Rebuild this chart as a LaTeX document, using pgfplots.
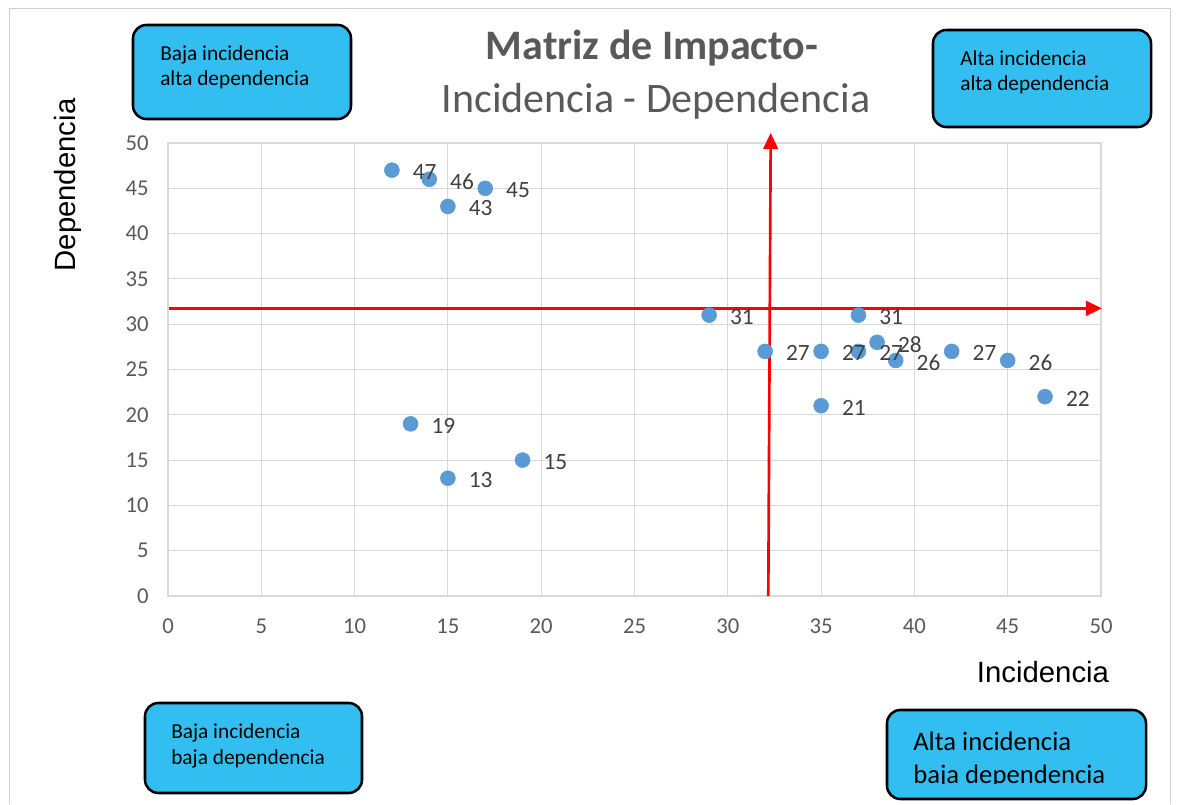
\documentclass[border=0pt]{standalone}
\usepackage{pgfplots}
\pgfplotsset{compat=1.18}
\usepackage{fontspec}
\setmainfont{Carlito}
\newfontfamily\arialfont{Liberation Sans}
\usetikzlibrary{arrows.meta}

\definecolor{gridgray}{HTML}{D9D9D9}
\definecolor{framegray}{HTML}{D0D0D0}
\definecolor{ticktext}{HTML}{595959}
\definecolor{labeltext}{HTML}{404040}
\definecolor{markblue}{HTML}{5B9BD5}
\definecolor{boxblue}{RGB}{50,190,240}

% Incidencia (x), Dependencia (y)
\pgfplotstableread{
x  y  l
12 47 47
14 46 46
17 45 45
15 43 43
13 19 19
15 13 13
19 15 15
29 31 31
32 27 27
35 27 27
37 27 27
37 31 31
38 28 28
39 26 26
42 27 27
45 26 26
47 22 22
35 21 21
}\datos

\begin{document}
\begin{tikzpicture}
\path (0,0) rectangle (882.75pt,603pt);

\begin{axis}[
  at={(126pt,156pt)}, anchor=south west,
  scale only axis, width=699.75pt, height=339.75pt,
  xmin=0, xmax=50, ymin=0, ymax=50,
  xtick={0,5,...,50}, ytick={0,5,...,50},
  grid=major,
  major grid style={draw=gridgray, line width=0.8pt},
  axis line style={draw=gridgray, line width=0.9pt},
  tick style={draw=none},
  /pgf/number format/assume math mode=true,
  tick label style={font=\fontsize{17}{20}\selectfont, text=ticktext},
  xticklabel style={yshift=-13.5pt},
  yticklabel style={xshift=-11pt},
  clip=false,
]
% markers
\addplot[only marks, mark=*, mark size=5.6pt,
  mark options={draw=markblue, fill=markblue}]
  table[x=x, y=y] {\datos};
% value labels, drawn above all markers
\addplot[draw=none, mark=none,
  nodes near coords, point meta=explicit symbolic,
  every node near coord/.style={anchor=west, xshift=12.2pt, yshift=-1.5pt,
    font=\fontsize{17.5}{20}\selectfont, text=labeltext}]
  table[x=x, y=y, meta=l] {\datos};

% quadrant dividers
\addplot[red, line width=2pt, -{Triangle[length=12pt, width=11pt]}]
  coordinates {(32.17,0) (32.3,51.1)};
\addplot[red, line width=2pt, -{Triangle[length=12pt, width=11pt]}]
  coordinates {(0.05,31.75) (50.05,31.75)};
\end{axis}

\begin{scope}[x=0.75pt, y=-0.75pt, yshift=603pt]
  % chart frame
  \draw[framegray, line width=0.75pt] (9,804) -- (9,9) -- (1170,9) -- (1170,804);

  % titles
  \node[anchor=base, text=ticktext, font=\fontsize{31.5}{36}\selectfont\bfseries]
    at (652,60) {Matriz de Impacto-};
  \node[anchor=base, text=ticktext, font=\fontsize{31.5}{36}\selectfont]
    at (656,113) {Incidencia - Dependencia};

  % axis titles
  \node[rotate=90, font=\arialfont\fontsize{22}{26}\selectfont]
    at (68,185) {Dependencia};
  \node[font=\arialfont\fontsize{22}{26}\selectfont]
    at (1043,672) {Incidencia};

  % quadrant boxes
  \tikzset{qbox/.style={draw=black, fill=boxblue, line width=1.9pt, rounded corners=10pt},
           qtext/.style={anchor=base west, inner sep=0pt, font=\fontsize{16}{19}\selectfont}}
  \draw[qbox] (133,25) rectangle (351,119);
  \node[qtext] at (160,61) {Baja incidencia};
  \node[qtext] at (160,86) {alta dependencia};

  \draw[qbox] (933,30) rectangle (1151,127);
  \node[qtext] at (960,66) {Alta incidencia};
  \node[qtext] at (960,91) {alta dependencia};

  \draw[qbox] (145,703) rectangle (362,793);
  \node[qtext] at (171,739) {Baja incidencia};
  \node[qtext] at (171,765) {baja dependencia};

  \draw[qbox] (887,710) rectangle (1146,799);
  \node[qtext, font=\fontsize{20}{24}\selectfont] at (913,751) {Alta incidencia};
  \begin{scope}
    \clip (887,700) rectangle (1146,784);
    \node[qtext, font=\fontsize{20}{24}\selectfont] at (913,783) {baja dependencia};
  \end{scope}
\end{scope}
\end{tikzpicture}
\end{document}
